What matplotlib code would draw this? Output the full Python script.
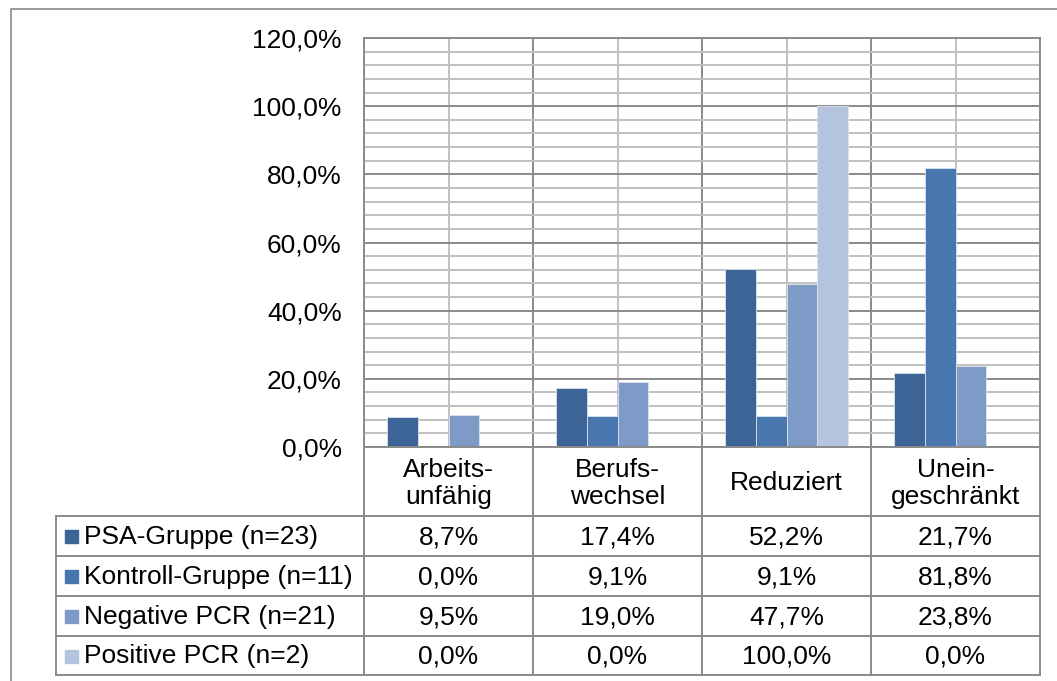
import matplotlib
matplotlib.use("Agg")
import matplotlib.pyplot as plt
from matplotlib.ticker import MultipleLocator, FuncFormatter
from matplotlib.patches import Rectangle

plt.rcParams['font.family'] = ['Liberation Sans', 'DejaVu Sans']

categories = ["Arbeits-\nunfähig", "Berufs-\nwechsel", "Reduziert", "Unein-\ngeschränkt"]
series_names = ["PSA-Gruppe (n=23)", "Kontroll-Gruppe (n=11)", "Negative PCR (n=21)", "Positive PCR (n=2)"]
psa = [8.7, 17.4, 52.2, 21.7]
kontroll = [0.0, 9.1, 9.1, 81.8]
neg_pcr = [9.5, 19.0, 47.7, 23.8]
pos_pcr = [0.0, 0.0, 100.0, 0.0]
series_values = [psa, kontroll, neg_pcr, pos_pcr]
colors = ["#3C6496", "#4877B0", "#7E9BC8", "#B4C3DE"]

W, H = 1057, 681
fig = plt.figure(figsize=(W / 100, H / 100), dpi=100)

# plot area in pixels
L, R, T, B = 364, 1040, 38, 447
ax = fig.add_axes([L / W, 1 - B / H, (R - L) / W, (B - T) / H])
ax.set_xlim(-0.5, 3.5)
ax.set_ylim(0, 120)

bw = 0.183
n = len(series_values)
for i, (vals, c) in enumerate(zip(series_values, colors)):
    xs = [k + (i - (n - 1) / 2) * bw for k in range(len(categories))]
    ax.bar(xs, vals, width=bw, color=c, edgecolor="#DCE3EE", linewidth=0.6, zorder=3)

major_c = "#8A8A8A"
minor_c = "#C0C0C0"
fs = 19
ax.yaxis.set_major_locator(MultipleLocator(20))
ax.yaxis.set_minor_locator(MultipleLocator(4))
ax.yaxis.set_major_formatter(FuncFormatter(lambda v, p: f"{v:.1f}%".replace(".", ",")))
ax.set_xticks([-0.5, 0.5, 1.5, 2.5, 3.5])
ax.set_xticks([0, 1, 2, 3], minor=True)
ax.xaxis.set_major_formatter(FuncFormatter(lambda v, p: ""))
ax.grid(True, which="minor", axis="both", color=minor_c, linewidth=1.4, zorder=0)
ax.grid(True, which="major", axis="both", color=major_c, linewidth=1.4, zorder=1)
ax.tick_params(axis="both", which="both", length=0)
ax.tick_params(axis="y", labelsize=fs, pad=16)
for s in ax.spines.values():
    s.set_color(major_c)
    s.set_linewidth(1.4)
    s.set_zorder(4)

# overlay axes in pixel coordinates for table and frame
ov = fig.add_axes([0, 0, 1, 1])
ov.set_xlim(0, W)
ov.set_ylim(H, 0)
ov.axis("off")
ov.patch.set_alpha(0)

lc = "#8A8A8A"
lw = 1.4
# outer frame
ov.plot([11, 11, W + 5], [H + 5, 9, 9], color="#8A8A8A", lw=1.2, solid_capstyle="butt")

TL = 56
row_edges = [447, 516, 556, 596, 636, 675]
col_w = (R - L) / len(categories)
col_edges = [L + k * col_w for k in range(len(categories) + 1)]

# horizontal table lines
for y in row_edges[1:]:
    ov.plot([TL, R], [y, y], color=lc, lw=lw)
# vertical lines
for x in col_edges:
    ov.plot([x, x], [row_edges[0], row_edges[-1]], color=lc, lw=lw)
ov.plot([TL, TL], [row_edges[1], row_edges[-1]], color=lc, lw=lw)

# category header
for k, cat in enumerate(categories):
    cx = L + (k + 0.5) * col_w
    cy = (row_edges[0] + row_edges[1]) / 2 + 2
    ov.text(cx, cy, cat, ha="center", va="center", fontsize=fs, linespacing=1.2)

# rows
for i, (name, vals, c) in enumerate(zip(series_names, series_values, colors)):
    y0, y1 = row_edges[i + 1], row_edges[i + 2]
    cy = (y0 + y1) / 2
    ov.add_patch(Rectangle((65, cy - 6), 13, 13, color=c))
    ov.text(84, cy + 1, name, ha="left", va="center", fontsize=fs)
    for k, v in enumerate(vals):
        cx = L + (k + 0.5) * col_w
        ov.text(cx, cy + 1, f"{v:.1f}%".replace(".", ","), ha="center", va="center", fontsize=fs)

fig.savefig("out.png", dpi=100, facecolor="white")
